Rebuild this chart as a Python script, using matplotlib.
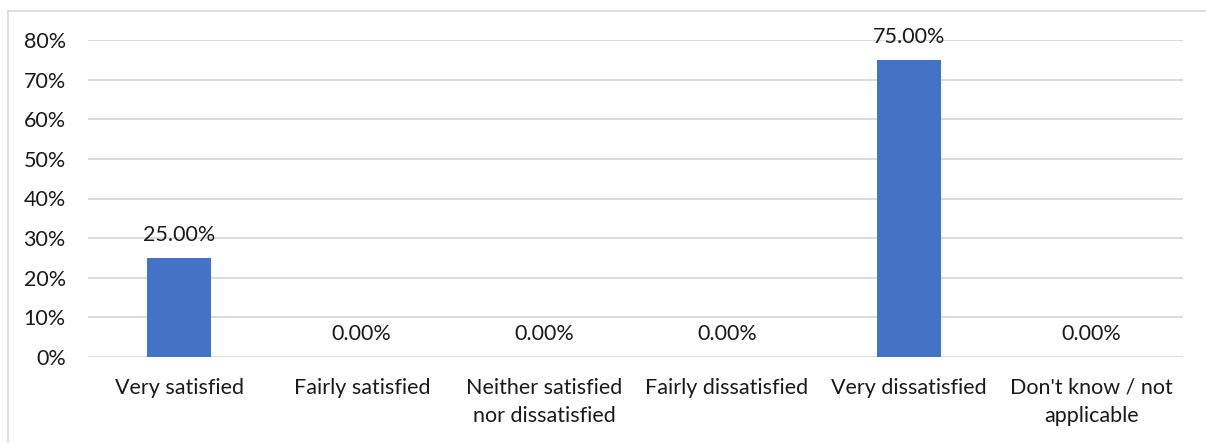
import matplotlib
matplotlib.use("Agg")
import matplotlib.pyplot as plt
from matplotlib.ticker import PercentFormatter, MultipleLocator
from matplotlib.lines import Line2D

categories = ["Very satisfied", "Fairly satisfied", "Neither satisfied\nnor dissatisfied",
              "Fairly dissatisfied", "Very dissatisfied", "Don't know / not\napplicable"]
shares = [25.0, 0.0, 0.0, 0.0, 75.0, 0.0]

plt.rcParams["font.family"] = ["Lato", "DejaVu Sans"]
text_color = "#1a1a1a"
grid_color = "#d9d9d9"
bar_color = "#4472c4"
fs = 15.5

W, H = 1206, 443
fig = plt.figure(figsize=(W / 100, H / 100), dpi=100)
fig.patch.set_facecolor("white")

# chart frame (top and left edges visible)
fig.add_artist(Line2D([8 / W, 1.0], [1 - 11 / H, 1 - 11 / H], color="#d9d9d9", lw=1.2))
fig.add_artist(Line2D([8 / W, 8 / W], [0, 1 - 11 / H], color="#d9d9d9", lw=1.2))

left, right, top, bottom = 88, 1183, 40, 357
ax = fig.add_axes([left / W, 1 - bottom / H, (right - left) / W, (bottom - top) / H])

x = range(len(categories))
bars = ax.bar(x, shares, width=0.35, color=bar_color, zorder=3)
ax.set_xlim(-0.5, len(categories) - 0.5)
ax.set_ylim(0, 80)
ax.yaxis.set_major_locator(MultipleLocator(10))
ax.yaxis.set_major_formatter(PercentFormatter(decimals=0))
ax.grid(axis="y", color=grid_color, lw=1.3, zorder=0)
for s in ax.spines.values():
    s.set_visible(False)
ax.tick_params(axis="both", length=0, labelsize=fs, colors=text_color)
ax.tick_params(axis="y", pad=16)
ax.tick_params(axis="x", pad=15)
ax.set_xticks(list(x))
ax.set_xticklabels(categories, linespacing=1.5)

for xi, v in zip(x, shares):
    ax.annotate(f"{v:.2f}%", (xi, v), xytext=(0, 9), textcoords="offset points",
                ha="center", va="bottom", fontsize=fs, color=text_color)

fig.savefig("out.png", dpi=100)
